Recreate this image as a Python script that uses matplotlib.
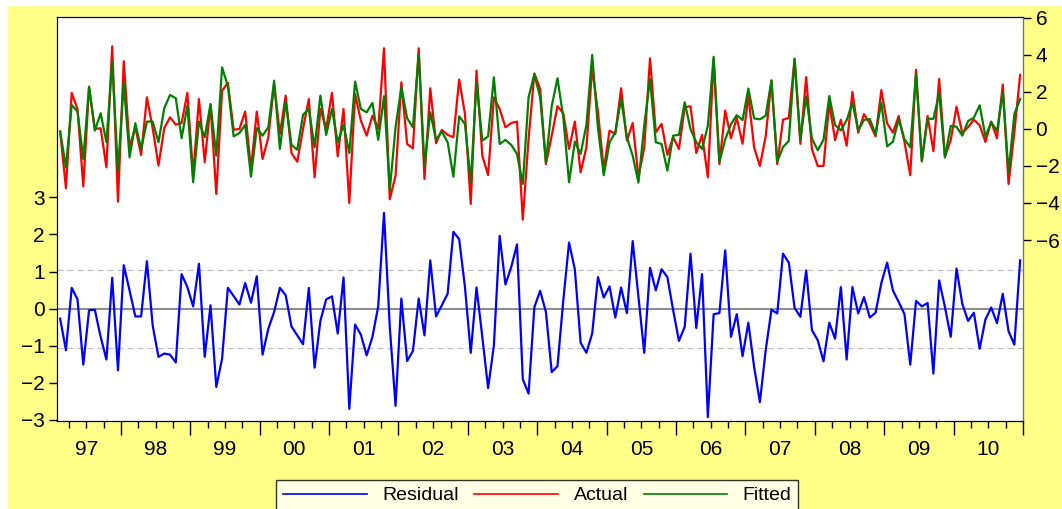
import numpy as np
import matplotlib
matplotlib.use('Agg')
import matplotlib.pyplot as plt

plt.rcParams['font.family'] = ['Liberation Sans', 'DejaVu Sans']

# monthly sample 1997M02 - 2010M12
start_year = 1997
start_month = 2

residual = [-0.27, -1.12, 0.56, 0.25, -1.51, -0.04, -0.03, -0.76, -1.37, 0.83,
            -1.66, 1.17, 0.49, -0.21, -0.21, 1.28, -0.45, -1.30, -1.21, -1.24,
            -1.45, 0.93, 0.58, 0.06, 1.21, -1.30, 0.09, -2.11, -1.35, 0.56,
            0.34, 0.11, 0.69, 0.16, 0.87, -1.24, -0.54, -0.09, 0.56, 0.36,
            -0.48, -0.72, -0.96, 0.56, -1.59, -0.33, 0.25, 0.33, -0.67, 0.84,
            -2.70, -0.43, -0.70, -1.26, -0.76, 0.06, 2.58, -0.50, -2.62, 0.27,
            -1.41, -1.14, 0.27, -0.72, 1.30, -0.21, 0.09, 0.40, 2.07, 1.87,
            0.58, -1.19, 0.57, -0.76, -2.14, -1.00, 1.96, 0.65, 1.12, 1.73,
            -1.90, -2.29, 0.04, 0.48, -0.09, -1.71, -1.55, 0.22, 1.78, 1.06,
            -0.92, -1.19, -0.67, 0.85, 0.30, 0.60, -0.24, 0.57, -0.12, 1.82,
            0.31, -1.19, 1.10, 0.49, 1.06, 0.85, -0.04, -0.87, -0.49, 1.48,
            -0.52, 0.93, -2.92, -0.15, -0.12, 1.57, -0.76, -0.15, -1.28, -0.38,
            -1.57, -2.52, -1.12, -0.03, -0.13, 1.48, 1.24, 0.02, -0.22, 1.03,
            -0.58, -0.85, -1.42, -0.38, -0.81, 0.58, -1.37, 0.58, -0.13, 0.31,
            -0.24, -0.11, 0.69, 1.24, 0.49, 0.18, -0.15, -1.51, 0.21, 0.06,
            0.15, -1.75, 0.76, 0.04, -0.76, 1.08, 0.13, -0.33, -0.11, -1.08,
            -0.29, 0.03, -0.39, 0.40, -0.61, -0.97, 1.30]

actual = [-0.14, -3.20, 1.95, 1.08, -3.10, 2.25, 0.00, 0.04, -2.07, 4.47,
          -3.93, 3.66, -0.99, 0.09, -1.41, 1.71, 0.04, -1.98, 0.04, 0.63,
          0.23, 0.32, 1.95, -2.52, 1.62, -1.80, 1.30, -3.51, 2.07, 2.49,
          -0.04, 0.00, 0.94, -2.16, 0.94, -1.62, -0.45, 2.43, -0.27, 1.80,
          -1.30, -1.77, 0.00, 1.62, -2.61, 1.08, 0.00, 1.95, -1.48, 1.08,
          -4.00, 1.89, 0.45, -0.36, 0.72, 0.00, 4.36, -3.80, -2.52, 2.52,
          -0.81, -1.05, 4.36, -2.70, 2.20, -0.77, -0.05, -0.32, -0.45, 2.67,
          0.81, -4.05, 3.15, -1.44, -2.49, 1.71, 1.08, 0.09, 0.32, 0.40,
          -4.90, -0.54, 3.00, 2.16, -1.90, -0.36, 1.23, 0.85, -1.08, 0.40,
          -2.34, -0.99, 3.30, 0.90, -2.20, -0.09, -0.27, 2.20, -0.63, 0.32,
          -2.60, -1.00, 3.82, -0.18, 0.27, -1.40, -0.45, -1.08, 1.17, 1.23,
          -1.30, -0.32, -2.61, 3.75, -1.90, 1.00, -0.50, 0.60, -0.80, 1.80,
          -1.00, -2.00, -0.40, 2.60, -1.90, 0.50, 0.60, 3.80, -0.80, 2.80,
          -1.10, -2.00, -2.00, 1.40, -0.60, 0.50, -0.90, 2.00, -0.20, 0.80,
          0.30, -0.40, 2.10, 0.30, -0.20, 0.70, -0.70, -2.50, 3.20, -1.70,
          0.70, -1.20, 2.70, -1.50, -0.60, 1.20, -0.23, 0.10, 0.50, 0.20,
          -0.70, 0.40, -0.50, 2.40, -2.97, -0.17, 2.92]

fitted = [-0.14, -2.07, 1.30, 0.94, -1.62, 2.29, -0.09, 0.85, -0.72, 3.64,
          -2.25, 2.49, -1.53, 0.31, -1.08, 0.40, 0.40, -0.72, 1.12, 1.84,
          1.66, -0.50, 1.26, -2.88, 0.40, -0.45, 1.35, -1.44, 3.33, 2.31,
          -0.40, -0.22, 0.22, -2.58, 0.04, -0.36, 0.09, 2.61, -1.08, 1.48,
          -0.86, -1.12, 0.76, 1.08, -0.99, 1.80, -0.32, 1.08, -0.72, 0.22,
          -1.30, 2.56, 1.08, 0.90, 1.41, -0.59, 1.77, -3.30, 0.10, 2.25,
          0.58, 0.09, 4.05, -1.98, 0.90, -0.59, -0.14, -0.72, -2.58, 0.68,
          0.27, -2.88, 2.52, -0.63, -0.40, 2.79, -0.81, -0.59, -0.86, -1.35,
          -2.97, 1.71, 2.96, 1.71, -1.80, 1.23, 2.74, 0.63, -2.88, -0.68,
          -1.35, 0.22, 4.00, 0.05, -2.50, -0.72, -0.18, 1.62, -0.45, -1.44,
          -2.90, 0.20, 2.70, -0.72, -0.81, -2.25, -0.36, -0.32, 1.44, 0.00,
          -0.72, -1.08, 0.18, 3.90, -1.78, -0.57, 0.26, 0.75, 0.48, 2.18,
          0.57, 0.52, 0.72, 2.63, -1.77, -0.98, -0.64, 3.78, -0.58, 1.77,
          -0.52, -1.15, -0.58, 1.78, 0.21, -0.08, 0.47, 1.42, -0.07, 0.49,
          0.54, -0.29, 1.41, -0.94, -0.69, 0.52, -0.55, -0.99, 2.99, -1.76,
          0.55, 0.55, 1.94, -1.54, 0.16, 0.12, -0.36, 0.43, 0.61, 1.28,
          -0.41, 0.37, -0.11, 2.00, -2.36, 0.80, 1.62]

year_labels = ['97', '98', '99', '00', '01', '02', '03', '04', '05', '06', '07', '08', '09', '10']

# mid-month positions in decimal years
n = len(residual)
t = start_year + (start_month - 1 + np.arange(n) + 0.5) / 12.0
se = 1.05

fig = plt.figure(figsize=(10.62, 5.09), dpi=100, facecolor='#FFFF88')
ax = fig.add_axes([0.0537, 0.1729, 0.9096, 0.7937])
ax2 = ax.twinx()

ax.plot(t, residual, color='#0000FF', lw=1.6, label='Residual')
ax.axhline(0, color='#808080', lw=1.3, zorder=1)
ax.axhline(se, color='#C0C0C0', lw=0.9, ls=(0, (5, 3)), zorder=1)
ax.axhline(-se, color='#C0C0C0', lw=0.9, ls=(0, (5, 3)), zorder=1)

ax2.plot(t, actual, color='#FF0000', lw=1.6, label='Actual')
ax2.plot(t, fitted, color='#008000', lw=1.6, label='Fitted')

ax.set_xlim(1997.08, 2011.0)
ax.set_ylim(-3.027, 7.857)
ax2.set_ylim(-15.78, 6.05)

ax.set_yticks(range(-3, 4))
ax2.set_yticks(range(-6, 7, 2))
ax.tick_params(axis='y', labelsize=15, length=6, width=1, direction='out', pad=3)
ax2.tick_params(axis='y', labelsize=15, length=6, width=1, direction='out', pad=3)

# year ticks at the boundaries, quarter ticks in between, labels mid-year
ax.set_xticks(np.arange(1998, 2012))
ax.set_xticklabels([])
ax.set_xticks(np.arange(1997.25, 2011, 0.25), minor=True)
ax.tick_params(axis='x', which='major', length=10, width=1, direction='out')
ax.tick_params(axis='x', which='minor', length=5, width=1, direction='out')
sec = ax.secondary_xaxis('bottom')
sec.set_xticks(np.arange(1997.5, 2011, 1.0))
sec.set_xticklabels(year_labels)
sec.tick_params(axis='x', length=0, labelsize=15, pad=14)
sec.spines['bottom'].set_visible(False)

ax.set_facecolor('white')
for s in ['left', 'bottom', 'top']:
    ax.spines[s].set_color('black')
ax2.spines['right'].set_color('#707070')

# white strips left / top like the screenshot crop
fig.patches.append(plt.Rectangle((0, 0), 7 / 1062, 1, transform=fig.transFigure, color='white', zorder=-1))
fig.patches.append(plt.Rectangle((0, 1 - 5 / 509), 1, 5 / 509, transform=fig.transFigure, color='white', zorder=-1))

h1, l1 = ax.get_legend_handles_labels()
h2, l2 = ax2.get_legend_handles_labels()
leg = fig.legend(h1 + h2, l1 + l2, loc='upper center', bbox_to_anchor=(0.506, 0.057),
                 borderaxespad=0, ncol=3, fontsize=14, frameon=True, fancybox=False,
                 handlelength=4.3, columnspacing=0.8, handletextpad=0.8, borderpad=0.35)
leg.get_frame().set_edgecolor('black')
leg.get_frame().set_linewidth(1.0)
for line in leg.get_lines():
    line.set_linewidth(1.2)

plt.savefig('out.png', dpi=100, facecolor=fig.get_facecolor())
